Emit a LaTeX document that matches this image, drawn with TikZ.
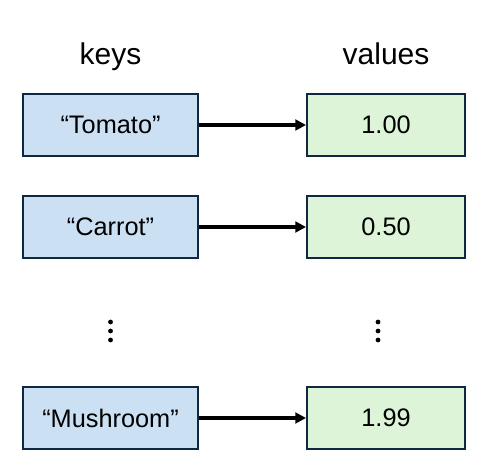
\documentclass[tikz,border=0pt]{standalone}
\usepackage{fontspec}
\setmainfont{Liberation Sans}
\usetikzlibrary{arrows.meta, positioning}
\usepackage{xcolor}
\definecolor{keyblue}{RGB}{204,224,244}
\definecolor{valgreen}{RGB}{221,244,216}
\definecolor{boxline}{RGB}{14,40,65}

\begin{document}
\begin{tikzpicture}[
  keybox/.style={rectangle, draw=boxline, fill=keyblue, line width=1.6pt, minimum width=131.15pt, minimum height=46.4pt, font=\fontsize{19}{23}\selectfont},
  valbox/.style={rectangle, draw=boxline, fill=valgreen, line width=1.6pt, minimum width=118.4pt, minimum height=46.4pt, font=\fontsize{19}{23}\selectfont},
  head/.style={inner sep=0pt, font=\fontsize{22.5}{27}\selectfont},
  arrow/.style={-{Triangle[length=8pt, width=8pt]}, line width=2.5pt, color=black},
]
  \useasboundingbox (0,0) rectangle (362.25pt,-347.25pt);

  \node[keybox] (tomato) at (82.9pt,-93.75pt) {``Tomato''};
  \node[keybox, below=28.5pt of tomato] (carrot) {``Carrot''};
  \node[keybox, below=95.25pt of carrot] (mushroom) {``Mushroom''};

  \node[valbox, right=80.25pt of tomato] (onezero) {1.00};
  \node[valbox, right=80.25pt of carrot] (halfprice) {0.50};
  \node[valbox, right=80.25pt of mushroom] (oneninenine) {1.99};

  \node[head, above=21pt of tomato, anchor=base] (keys) {keys};
  \node[head, above=21pt of onezero, anchor=base] (values) {values};

  % vertical ellipses
  \coordinate[above=41.25pt of mushroom] (kdots);
  \coordinate[above=41.25pt of oneninenine, xshift=-6pt] (vdots);
  \foreach \p in {kdots, vdots}
    \foreach \dy in {-6.75pt, 0pt, 6.75pt}
      \fill ([yshift=\dy]\p) circle (1.8pt);

  \draw[arrow] (tomato) -- (onezero);
  \draw[arrow] (carrot) -- (halfprice);
  \draw[arrow] (mushroom) -- (oneninenine);
\end{tikzpicture}
\end{document}
